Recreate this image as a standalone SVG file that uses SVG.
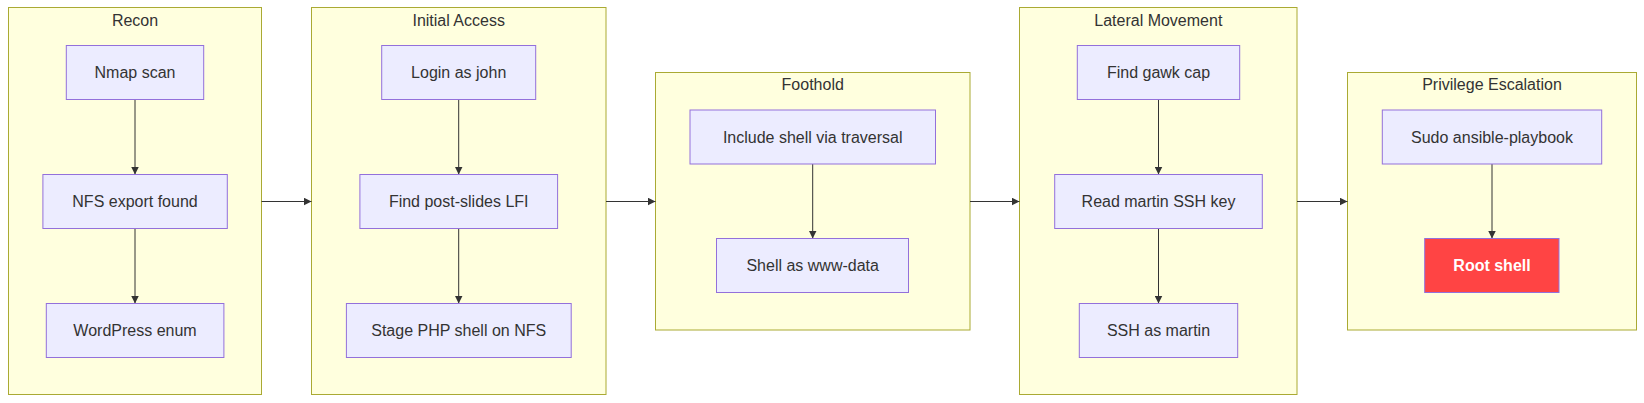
<svg xmlns="http://www.w3.org/2000/svg" width="1644" height="403" viewBox="0 0 1644 403">
<style>
.cluster rect{fill:#ffffde;stroke:#aaaa33;stroke-width:1}
.ctitle{font-family:"Liberation Sans",Arial,sans-serif;font-size:16px;fill:#333333;text-anchor:middle}
.node rect{fill:#ececff;stroke:#9370db;stroke-width:1}
.node text{font-family:"Liberation Sans",Arial,sans-serif;font-size:16px;fill:#333333;text-anchor:middle}
.node.root rect{fill:#ff4444}
.node.root text{fill:#ffffff;font-weight:bold}
.edges path{stroke:#333333;stroke-width:1;fill:none}
</style>
<defs>
<marker id="arrow" viewBox="0 0 10 10" refX="10" refY="5" markerUnits="userSpaceOnUse" markerWidth="8" markerHeight="8" orient="auto">
<path d="M0,0 L10,5 L0,10 z" fill="#333333"/>
</marker>
</defs>
<rect width="1644" height="403" fill="#ffffff"/>

<g id="cluster-recon" class="cluster">
<rect x="8.5" y="7.5" width="253" height="387"/>
<text class="ctitle" x="135" y="26">Recon</text>
</g>
<g id="cluster-initial" class="cluster">
<rect x="311.5" y="7.5" width="294.5" height="387"/>
<text class="ctitle" x="458.7" y="26">Initial Access</text>
</g>
<g id="cluster-foothold" class="cluster">
<rect x="655.5" y="72.5" width="314.5" height="257.5"/>
<text class="ctitle" x="812.7" y="90">Foothold</text>
</g>
<g id="cluster-lateral" class="cluster">
<rect x="1019.5" y="7.5" width="277.5" height="387"/>
<text class="ctitle" x="1158.3" y="26">Lateral Movement</text>
</g>
<g id="cluster-privesc" class="cluster">
<rect x="1347.5" y="72.5" width="289" height="257.5"/>
<text class="ctitle" x="1492" y="90">Privilege Escalation</text>
</g>

<g id="edges" class="edges">
<path d="M135,99.5 L135,174.5" marker-end="url(#arrow)"/>
<path d="M135,228.5 L135,303.5" marker-end="url(#arrow)"/>
<path d="M458.7,99.5 L458.7,174.5" marker-end="url(#arrow)"/>
<path d="M458.7,228.5 L458.7,303.5" marker-end="url(#arrow)"/>
<path d="M812.7,164 L812.7,238.5" marker-end="url(#arrow)"/>
<path d="M1158.5,99.5 L1158.5,174.5" marker-end="url(#arrow)"/>
<path d="M1158.5,228.5 L1158.5,303.5" marker-end="url(#arrow)"/>
<path d="M1492,164 L1492,238.5" marker-end="url(#arrow)"/>
<path d="M261.5,201.5 L311.5,201.5" marker-end="url(#arrow)"/>
<path d="M606,201.5 L655.5,201.5" marker-end="url(#arrow)"/>
<path d="M970,201.5 L1019.5,201.5" marker-end="url(#arrow)"/>
<path d="M1297,201.5 L1347.5,201.5" marker-end="url(#arrow)"/>
</g>

<g id="node-nmap" class="node">
<rect x="66.3" y="45.5" width="137.4" height="54"/>
<text x="135" y="78">Nmap scan</text>
</g>
<g id="node-nfs" class="node">
<rect x="42.9" y="174.5" width="184.4" height="54"/>
<text x="135" y="207">NFS export found</text>
</g>
<g id="node-wp" class="node">
<rect x="46.3" y="303.5" width="177.6" height="54"/>
<text x="135" y="336">WordPress enum</text>
</g>

<g id="node-login" class="node">
<rect x="381.7" y="45.5" width="154" height="54"/>
<text x="458.7" y="78">Login as john</text>
</g>
<g id="node-lfi" class="node">
<rect x="359.9" y="174.5" width="197.7" height="54"/>
<text x="458.7" y="207">Find post-slides LFI</text>
</g>
<g id="node-stage" class="node">
<rect x="346.4" y="303.5" width="224.8" height="54"/>
<text x="458.7" y="336">Stage PHP shell on NFS</text>
</g>

<g id="node-include" class="node">
<rect x="690" y="110" width="245.5" height="54"/>
<text x="812.7" y="142.5">Include shell via traversal</text>
</g>
<g id="node-www" class="node">
<rect x="716.5" y="238.5" width="192" height="54"/>
<text x="812.7" y="271">Shell as www-data</text>
</g>

<g id="node-gawk" class="node">
<rect x="1077.3" y="45.5" width="162.4" height="54"/>
<text x="1158.5" y="78">Find gawk cap</text>
</g>
<g id="node-key" class="node">
<rect x="1054.7" y="174.5" width="207.6" height="54"/>
<text x="1158.5" y="207">Read martin SSH key</text>
</g>
<g id="node-ssh" class="node">
<rect x="1079.3" y="303.5" width="158.4" height="54"/>
<text x="1158.5" y="336">SSH as martin</text>
</g>

<g id="node-sudo" class="node">
<rect x="1382.3" y="110" width="219.4" height="54"/>
<text x="1492" y="142.5">Sudo ansible-playbook</text>
</g>
<g id="node-root" class="node root">
<rect x="1424.7" y="238.5" width="134.3" height="54"/>
<text x="1492" y="271">Root shell</text>
</g>
</svg>
